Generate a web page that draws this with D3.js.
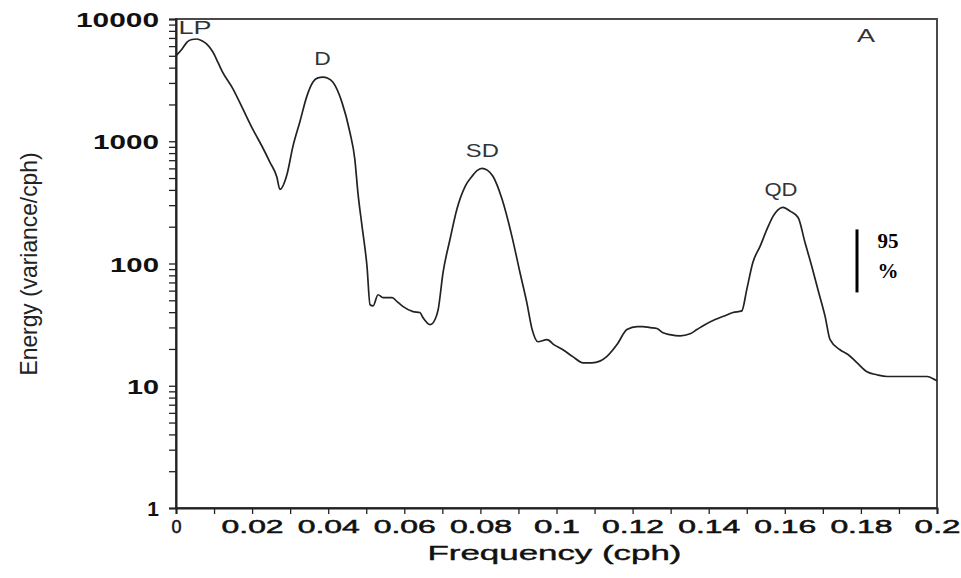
<!DOCTYPE html>
<html><head><meta charset="utf-8">
<script src="https://cdn.jsdelivr.net/npm/d3@7"></script>
<style>
html,body{margin:0;padding:0;background:#fff;}
svg{display:block;}
</style></head>
<body>
<svg id="chart" width="961" height="578"></svg>
<script>
// ---- data ----
const freq = [0.0000,0.0016,0.0029,0.0042,0.0055,0.0068,0.0081,0.0097,0.0110,0.0121,0.0150,0.0176,0.0202,0.0226,0.0247,0.0265,0.0273,0.0292,0.0307,0.0326,0.0344,0.0360,0.0373,0.0386,0.0399,0.0412,0.0436,0.0457,0.0470,0.0478,0.0489,0.0502,0.0510,0.0518,0.0531,0.0544,0.0568,0.0581,0.0597,0.0623,0.0641,0.0649,0.0668,0.0681,0.0689,0.0702,0.0720,0.0738,0.0760,0.0778,0.0791,0.0804,0.0818,0.0833,0.0857,0.0883,0.0904,0.0922,0.0936,0.0951,0.0975,0.0995,0.1017,0.1043,0.1070,0.1093,0.1114,0.1132,0.1159,0.1185,0.1212,0.1227,0.1246,0.1264,0.1280,0.1298,0.1325,0.1351,0.1369,0.1390,0.1417,0.1443,0.1464,0.1487,0.1500,0.1516,0.1535,0.1553,0.1569,0.1582,0.1595,0.1615,0.1635,0.1653,0.1671,0.1687,0.1706,0.1719,0.1745,0.1766,0.1790,0.1816,0.1842,0.1869,0.1903,0.1974,0.1995,0.2000];
const energy = [5000,5680,6480,6800,6860,6650,6240,5370,4440,3750,2670,1830,1250,910,673,510,404,540,900,1460,2340,3050,3300,3350,3280,3050,2090,1185,712,382,201,94.5,46,45,55.5,52.6,52.6,48.8,44.4,40.4,39.7,36.1,31.6,35,42,85,157,277,428,517,575,601,580,517,335,166,84.4,47.9,28.8,22.9,23.8,21.5,19.7,17.3,15.4,15.4,15.9,17.3,21.7,28.8,30.5,30.5,29.9,29.4,27.1,26.2,25.6,26.6,28.8,31.6,34.8,37.4,39.7,41,61.2,102,138,190,243,275,288,267,238,149,94.5,61.2,36.8,23.8,19.7,18,15.4,13.0,12.3,11.9,11.9,11.9,11.2,11.0];

const peakLabels = ["LP","D","SD","QD"];
const peakFreq   = [0.0050,0.0385,0.0805,0.1590];
const peakEnergy = [7600,4200,750,355];

const xTickValues = d3.range(0,21).map(i=>+(i*0.01).toFixed(2));
const xTickLabels = ["0","0.02","0.04","0.06","0.08","0.1","0.12","0.14","0.16","0.18","0.2"];
const yMajor = [1,10,100,1000,10000];
const yTickLabels = ["1","10","100","1000","10000"];
const panelLabel = "A";
const confLabel = ["95","%"];
const confTop = 190, confBottom = 58;   // 95% bar span in energy units
const xTitle = "Frequency (cph)";
const yTitle = "Energy (variance/cph)";

// ---- layout ----
const L = 176, R = 937, T = 19, B = 508;
const svg = d3.select("#chart");
const x = d3.scaleLinear().domain([0,0.2]).range([L,R]);
const y = d3.scaleLog().domain([1,10000]).range([B,T]);

// frame
svg.append("rect").attr("x",L).attr("y",T).attr("width",R-L).attr("height",B-T)
  .attr("fill","none").attr("stroke","#4a4a4a").attr("stroke-width",2);

// y axis
const yMinor = [];
for (let e=0;e<4;e++) for (let k=1;k<=9;k++) yMinor.push(k*Math.pow(10,e));
yMinor.push(10000);
const yAxis = d3.axisLeft(y).tickValues(yMinor).tickSize(7).tickPadding(10)
  .tickFormat(d => { const i = yMajor.indexOf(d); return i>=0 ? yTickLabels[i] : ""; });
const gy = svg.append("g").attr("transform",`translate(${L},0)`).call(yAxis);
gy.select(".domain").attr("stroke","#222").attr("stroke-width",2);
gy.selectAll(".tick line").attr("stroke","#222").attr("stroke-width",1.3);
gy.selectAll(".tick text")
  .attr("font-family","Liberation Sans, Arial, sans-serif")
  .attr("font-weight","bold").attr("font-size",21).attr("fill","#111")
  .attr("dy","0.36em")
  .each(function(){ const t=this.textContent; if(t.length>1){ d3.select(this).attr("textLength", t.length*17-2).attr("lengthAdjust","spacingAndGlyphs"); } });

// x axis
const xAxis = d3.axisBottom(x).tickValues(xTickValues).tickSize(6).tickPadding(6)
  .tickFormat(d => { const i = Math.round(d*100); return i%2===0 ? xTickLabels[i/2] : ""; });
const gx = svg.append("g").attr("transform",`translate(0,${B})`).call(xAxis);
gx.select(".domain").attr("stroke","#222").attr("stroke-width",2);
gx.selectAll(".tick line").attr("stroke","#222").attr("stroke-width",1.3);
gx.selectAll(".tick text")
  .attr("font-family","Liberation Sans, Arial, sans-serif")
  .attr("font-size",18).attr("fill","#111").attr("stroke","#111").attr("stroke-width",0.5)
  .each(function(){ const t=this.textContent; if(t.length>1){ d3.select(this).attr("textLength", t.length*16-2).attr("lengthAdjust","spacingAndGlyphs"); } });

// titles
svg.append("text").attr("x",(L+R)/2-2).attr("y",560)
  .attr("text-anchor","middle")
  .attr("font-family","Liberation Sans, Arial, sans-serif").attr("font-size",20)
  .attr("fill","#111").attr("stroke","#111").attr("stroke-width",0.4)
  .attr("textLength",254).attr("lengthAdjust","spacingAndGlyphs").text(xTitle);
svg.append("text").attr("transform","translate(37,264) rotate(-90)")
  .attr("text-anchor","middle")
  .attr("font-family","Liberation Sans Narrow, Arial Narrow, sans-serif").attr("font-size",24).attr("fill","#222")
  .attr("textLength",223).attr("lengthAdjust","spacingAndGlyphs").text(yTitle);

// curve
const pts = freq.map((f,i)=>[f,energy[i]]);
const line = d3.line().x(d=>x(d[0])).y(d=>y(d[1])).curve(d3.curveMonotoneX);
svg.append("path").attr("d",line(pts)).attr("fill","none")
  .attr("stroke","#222").attr("stroke-width",1.7).attr("stroke-linejoin","round");

// peak labels
peakLabels.forEach((lab,i)=>{
  const t = svg.append("text").attr("x",x(peakFreq[i])).attr("y",y(peakEnergy[i]))
    .attr("text-anchor","middle")
    .attr("font-family","Liberation Sans, Arial, sans-serif").attr("font-size",18).attr("fill","#333")
    .text(lab);
  t.attr("textLength", lab.length*16.5).attr("lengthAdjust","spacingAndGlyphs");
});
svg.append("text").attr("x",866).attr("y",42).attr("text-anchor","middle")
  .attr("font-family","Liberation Sans, Arial, sans-serif").attr("font-size",19).attr("fill","#333")
  .attr("textLength",18).attr("lengthAdjust","spacingAndGlyphs").text(panelLabel);

// 95% confidence bar
svg.append("line").attr("x1",857).attr("x2",857).attr("y1",y(confTop)).attr("y2",y(confBottom))
  .attr("stroke","#000").attr("stroke-width",3);
svg.append("text").attr("x",888).attr("y",248).attr("text-anchor","middle")
  .attr("font-family","Liberation Serif, Times New Roman, serif").attr("font-weight","bold")
  .attr("font-size",21).attr("fill","#000").text(confLabel[0]);
svg.append("text").attr("x",888).attr("y",278).attr("text-anchor","middle")
  .attr("font-family","Liberation Serif, Times New Roman, serif").attr("font-weight","bold")
  .attr("font-size",21).attr("fill","#000").text(confLabel[1]);
</script>
</body></html>
